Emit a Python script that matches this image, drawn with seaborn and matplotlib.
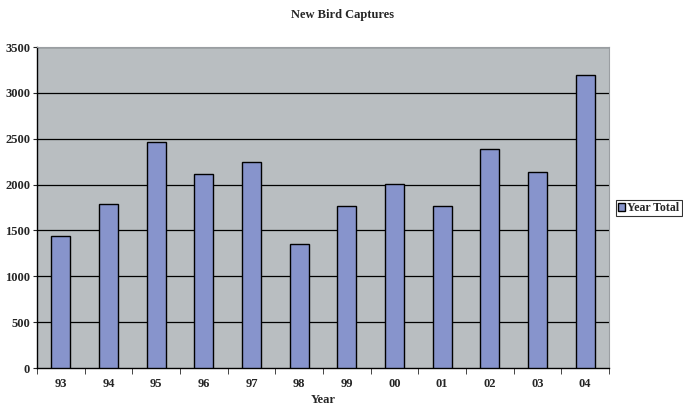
import matplotlib
matplotlib.use("Agg")
import matplotlib.pyplot as plt
import seaborn as sns
import pandas as pd
import numpy as np

years = ["93", "94", "95", "96", "97", "98", "99", "00", "01", "02", "03", "04"]
totals = [1440, 1790, 2460, 2120, 2250, 1355, 1765, 2005, 1770, 2390, 2135, 3190]
y_ticks = [0, 500, 1000, 1500, 2000, 2500, 3000, 3500]

sns.set_style("white")
plt.rcParams["font.family"] = ["Liberation Serif", "DejaVu Serif"]
plt.rcParams["font.weight"] = "bold"

df = pd.DataFrame({"Year": years, "Year Total": totals})

fig = plt.figure(figsize=(6.83, 4.08), dpi=100)
ax = fig.add_axes([0.0542, 0.098, 0.8375, 0.7868])
ax.set_facecolor("#B9BEC1")

sns.barplot(data=df, x="Year", y="Year Total", ax=ax, color="#8794CC",
            width=0.4, edgecolor="black", linewidth=1.0, saturation=1,
            label="Year Total", zorder=3)

ax.set_ylim(0, 3500)
ax.set_xlim(-0.5, len(years) - 0.5)
ax.set_yticks(y_ticks)
ax.set_yticklabels([str(v) for v in y_ticks], fontsize=9, fontweight="bold")
ax.set_xticks(np.arange(len(years)))
ax.set_xticklabels(years, fontsize=9, fontweight="bold")
ax.tick_params(axis="x", length=0, pad=7)
ax.tick_params(axis="y", length=3, direction="out", pad=2, left=True)
# minor ticks between categories on the x axis
ax.set_xticks(np.arange(-0.5, len(years), 1.0), minor=True)
ax.tick_params(axis="x", which="minor", length=4, direction="out", bottom=True)

for v in y_ticks[1:]:
    ax.axhline(v, color="black", linewidth=0.9, zorder=1)

for side in ["left", "bottom"]:
    ax.spines[side].set_color("black")
    ax.spines[side].set_linewidth(1.0)
for side in ["top", "right"]:
    ax.spines[side].set_color("#9A9EA2")
    ax.spines[side].set_linewidth(0.8)

ax.set_xlabel("Year", fontsize=9, fontweight="bold", labelpad=3)
ax.set_ylabel("")
fig.suptitle("New Bird Captures", fontsize=9, fontweight="bold", x=0.502, y=0.978)

leg = ax.legend(loc="center left", bbox_to_anchor=(0.9015, 0.49),
                bbox_transform=fig.transFigure, frameon=True, fancybox=False,
                fontsize=8.6, handlelength=0.6, handleheight=0.6, handletextpad=0.15,
                borderpad=0.2, borderaxespad=0)
leg.get_frame().set_edgecolor("black")
leg.get_frame().set_linewidth(0.8)
for t in leg.get_texts():
    t.set_fontweight("bold")

fig.savefig("out.png", dpi=100)
